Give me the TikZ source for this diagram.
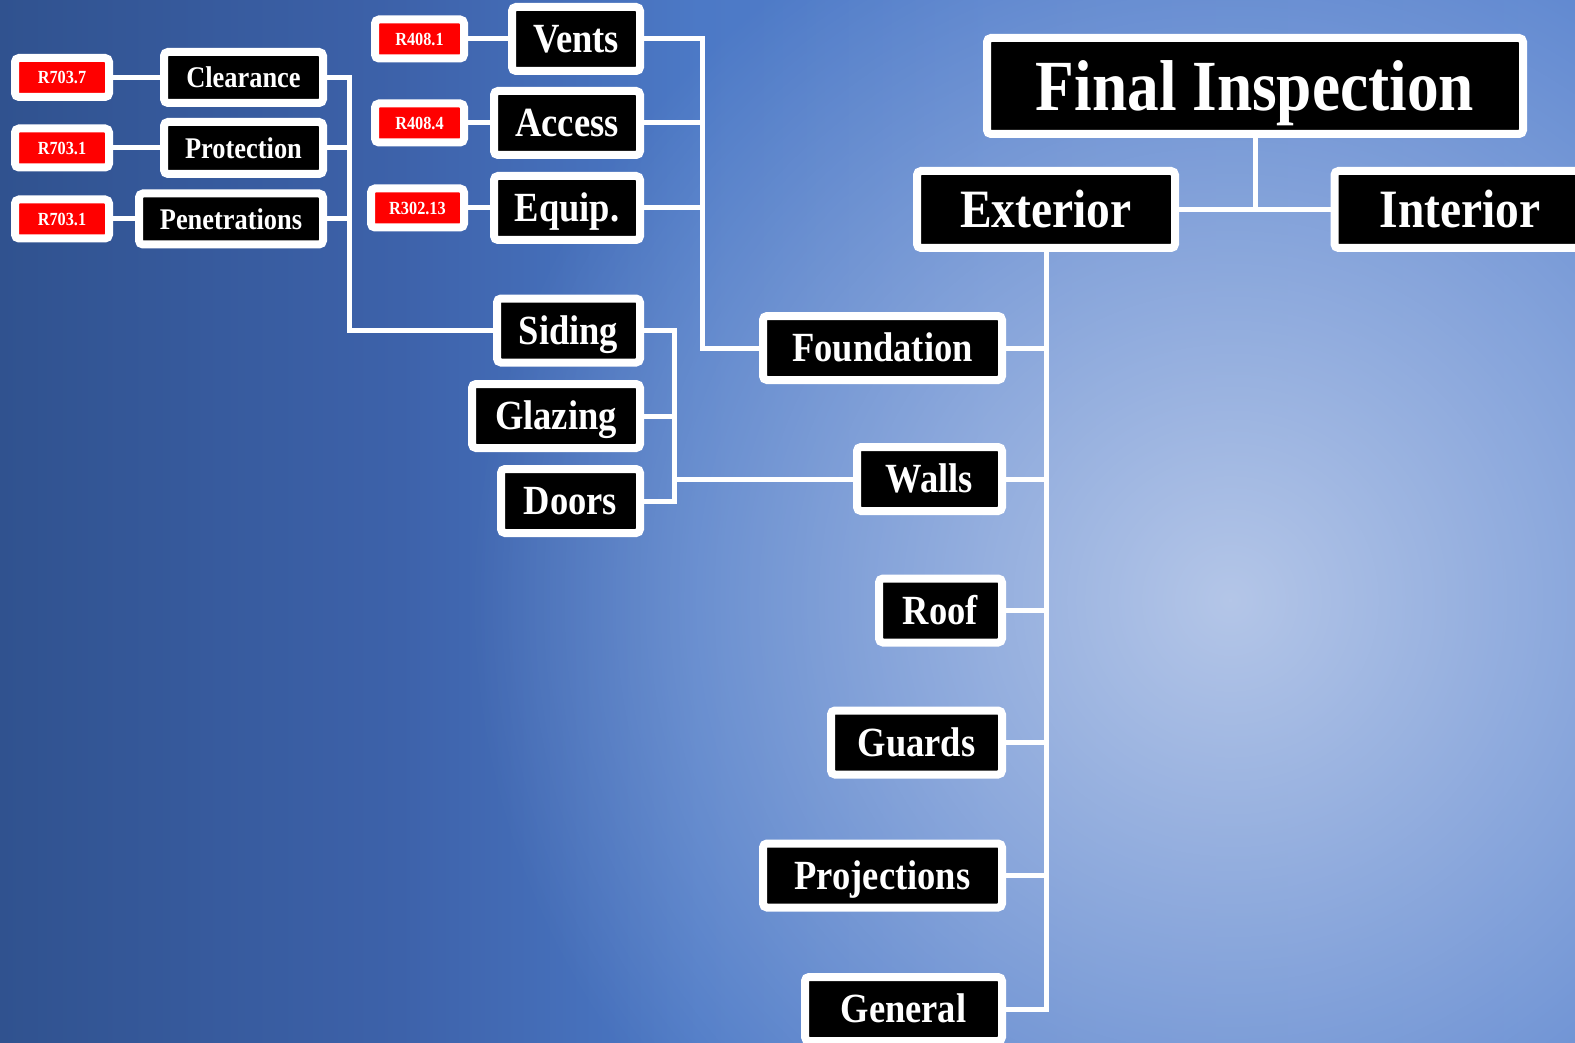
\documentclass[tikz,border=0pt]{standalone}
\usepackage{fontspec}
\newfontfamily\boxfont{Liberation Serif}[FakeStretch=0.88]
\usetikzlibrary{fadings}
\pgfdeclarelayer{backdrop}
\pgfdeclarelayer{wires}
\pgfsetlayers{backdrop,wires,main}
\definecolor{bgA}{HTML}{30528F}
\definecolor{bgB}{HTML}{3D62AA}
\definecolor{bgC}{HTML}{4C79C6}
\definecolor{bgD}{HTML}{5580CC}
\definecolor{bgE}{HTML}{5A84CF}
\definecolor{glowcol}{HTML}{B4C6E8}
\definecolor{codered}{HTML}{FF0000}
% left-to-right backdrop ramp (path spans 25bp..75bp)
\pgfdeclarehorizontalshading{backramp}{100bp}{color(0bp)=(bgA); color(25bp)=(bgA);
  color(37.7bp)=(bgB); color(47.2bp)=(bgC); color(56.7bp)=(bgD);
  color(75bp)=(bgE); color(100bp)=(bgE)}
\tikzfading[name=glowfade, inner color=transparent!0, outer color=transparent!100]
\begin{document}
\begin{tikzpicture}[x=1pt,y=-1pt,
  box/.style={draw=white, line width=8pt, rounded corners=4pt, fill=black,
    text=white, inner sep=0pt, align=center},
  big/.style={box, font=\boxfont\bfseries\fontsize{72}{72}\selectfont,
    text height=64pt, text depth=15.8pt},
  ext/.style={box, font=\boxfont\bfseries\fontsize{54}{54}\selectfont,
    text height=48pt, text depth=11.9pt, minimum height=77pt},
  mid/.style={box, font=\boxfont\bfseries\fontsize{41.5}{41.5}\selectfont,
    text height=37pt, text depth=9.1pt, minimum height=64pt},
  sub/.style={box, font=\boxfont\bfseries\fontsize{30}{30}\selectfont,
    text height=26.7pt, text depth=6.6pt, minimum height=51pt},
  code/.style={box, fill=codered, font=\boxfont\bfseries\fontsize{18.5}{18.5}\selectfont,
    text height=16.5pt, text depth=4.1pt, minimum height=39pt},
  wire/.style={draw=white, line width=5pt}
]
\useasboundingbox (0,0) rectangle (1575,1043);

% backdrop: blue gradient with a soft light spot
\begin{pgfonlayer}{backdrop}
  \shade[shading=backramp] (0,0) rectangle (1575,1043);
  \fill[glowcol, path fading=glowfade] (1230,600) circle (760);
\end{pgfonlayer}

% top level
\node[big, minimum width=536pt, minimum height=96pt] (final) at (1255,86) {Final Inspection};
\node[ext, minimum width=258pt] (exterior) at (1046,209.5) {Exterior};
\node[ext, minimum width=251pt] (interior) at (1460,209.5) {Interior};

% exterior items
\node[mid, minimum width=239pt] (foundation) at (882.5,348) {Foundation};
\node[mid, minimum width=145pt] (walls) at (929.5,479) {Walls};
\node[mid, minimum width=123pt] (roof) at (940.5,610.5) {Roof};
\node[mid, minimum width=171pt] (guards) at (916.5,742.5) {Guards};
\node[mid, minimum width=239pt] (projections) at (882.5,875.5) {Projections};
\node[mid, minimum width=197pt] (general) at (903.5,1009) {General};

% foundation items
\node[mid, minimum width=128pt] (vents) at (576,39) {Vents};
\node[mid, minimum width=146pt] (access) at (567,123) {Access};
\node[mid, minimum width=146pt] (equip) at (567,208) {Equip.};

% wall items
\node[mid, minimum width=143pt] (siding) at (568.5,330.5) {Siding};
\node[mid, minimum width=168pt] (glazing) at (556,416) {Glazing};
\node[mid, minimum width=139pt] (doors) at (570.5,501) {Doors};

% siding items
\node[sub, minimum width=159pt] (clearance) at (243.5,77.5) {Clearance};
\node[sub, minimum width=159pt, minimum height=52pt] (protection) at (243.5,148) {Protection};
\node[sub, minimum width=184pt] (penetrations) at (231,219) {Penetrations};

% code references
\node[code, minimum width=94pt] (r1) at (62,77.5) {R703.7};
\node[code, minimum width=94pt] (r2) at (62,148) {R703.1};
\node[code, minimum width=94pt] (r3) at (62,219) {R703.1};
\node[code, minimum width=89pt] (r4) at (419.5,39) {R408.1};
\node[code, minimum width=89pt] (r5) at (419.5,123) {R408.4};
\node[code, minimum width=93pt] (r6) at (417.5,208) {R302.13};

% bus lines
\coordinate (busA) at (349,0);
\coordinate (busB) at (702,0);
\coordinate (busC) at (674,0);

\begin{pgfonlayer}{wires}
  % top level
  \draw[wire] (final.south) -- (final.south |- exterior.east);
  \draw[wire] (exterior.east) -- (interior.west);
  % exterior trunk
  \draw[wire] (exterior.south) -- (exterior.south |- general.east) -- (general.east);
  \foreach \n in {foundation,walls,roof,guards,projections}
    \draw[wire] (\n.east) -- (\n.east -| exterior.south);
  % foundation branch
  \draw[wire] (vents.east) -- (vents.east -| busB) |- (foundation.west);
  \draw[wire] (access.east) -- (access.east -| busB);
  \draw[wire] (equip.east) -- (equip.east -| busB);
  % walls branch
  \draw[wire] (siding.east) -- (siding.east -| busC) -- (doors.east -| busC) -- (doors.east);
  \draw[wire] (glazing.east) -- (glazing.east -| busC);
  \draw[wire] (walls.west) -- (walls.west -| busC);
  % siding branch
  \draw[wire] (clearance.east) -- (clearance.east -| busA) |- (siding.west);
  \draw[wire] (protection.east) -- (protection.east -| busA);
  \draw[wire] (penetrations.east) -- (penetrations.east -| busA);
  % code references
  \draw[wire] (r1) -- (clearance);
  \draw[wire] (r2) -- (protection);
  \draw[wire] (r3) -- (penetrations);
  \draw[wire] (r4) -- (vents);
  \draw[wire] (r5) -- (access);
  \draw[wire] (r6) -- (equip);
\end{pgfonlayer}
\end{tikzpicture}
\end{document}
